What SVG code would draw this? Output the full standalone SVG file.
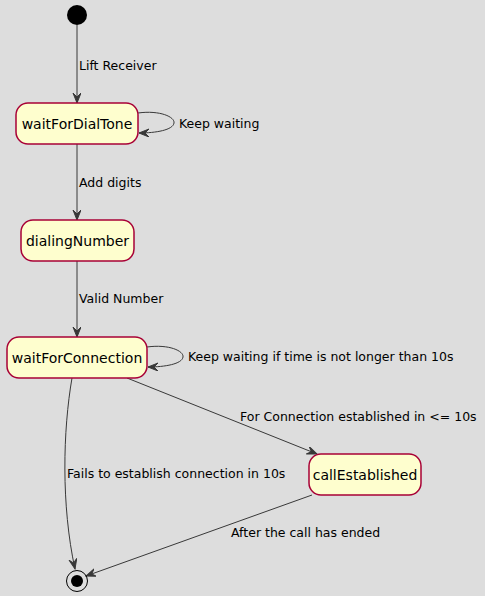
<svg xmlns="http://www.w3.org/2000/svg" width="485" height="596" viewBox="0 0 485 596">
<defs>
<style>
.node rect{fill:#FEFECE;stroke:#A80036;stroke-width:1.5}
.node text{font-family:"DejaVu Sans",sans-serif;font-size:14px;fill:#000;text-anchor:middle}
.edge{fill:none;stroke:#383838;stroke-width:1}
.lbl{font-family:"DejaVu Sans",sans-serif;font-size:12.5px;fill:#000}
</style>
<marker id="arr" markerWidth="12" markerHeight="10" refX="10" refY="4" orient="auto" markerUnits="userSpaceOnUse">
<path d="M0,0 L10,4 L0,8 L4,4 Z" fill="#383838" stroke="#383838" stroke-width="1"/>
</marker>
</defs>
<rect x="0" y="0" width="485" height="596" fill="#DDDDDD"/>
<g id="connectors">
<path class="edge" d="M77,25 L77,103" marker-end="url(#arr)"/>
<text class="lbl" x="79" y="70">Lift Receiver</text>
<path class="edge" d="M138,113 C160,110 175,117 174,123 C173,130 156,133 139,133" marker-end="url(#arr)"/>
<text class="lbl" x="179" y="128">Keep waiting</text>
<path class="edge" d="M77,144 L77,220" marker-end="url(#arr)"/>
<text class="lbl" x="79" y="187">Add digits</text>
<path class="edge" d="M77,261 L77,337" marker-end="url(#arr)"/>
<text class="lbl" x="79" y="303">Valid Number</text>
<path class="edge" d="M147,347 C169,344 184,351 183,357 C182,364 165,367 148,367" marker-end="url(#arr)"/>
<text class="lbl" x="188" y="361">Keep waiting if time is not longer than 10s</text>
<path class="edge" d="M127,378 L317,454" marker-end="url(#arr)"/>
<text class="lbl" x="240" y="421">For Connection established in &lt;= 10s</text>
<path class="edge" d="M72,378 C63,430 61,505 75,569" marker-end="url(#arr)"/>
<text class="lbl" x="67" y="478">Fails to establish connection in 10s</text>
<path class="edge" d="M312,495 L86,576" marker-end="url(#arr)"/>
<text class="lbl" x="231" y="537">After the call has ended</text>
</g>
<g id="start"><circle cx="77" cy="15" r="10" fill="#000"/></g>
<g id="end"><circle cx="77" cy="581" r="10.5" fill="none" stroke="#000" stroke-width="1"/><circle cx="77" cy="581" r="6" fill="#000"/></g>
<g id="waitForDialTone" class="node"><rect x="16" y="103" width="122" height="41" rx="12"/><text x="77" y="129">waitForDialTone</text></g>
<g id="dialingNumber" class="node"><rect x="21" y="220" width="113" height="41" rx="12"/><text x="77.5" y="246">dialingNumber</text></g>
<g id="waitForConnection" class="node"><rect x="7" y="337" width="140" height="41" rx="12"/><text x="77" y="363">waitForConnection</text></g>
<g id="callEstablished" class="node"><rect x="309" y="454" width="112" height="41" rx="12"/><text x="365" y="480">callEstablished</text></g>
</svg>
